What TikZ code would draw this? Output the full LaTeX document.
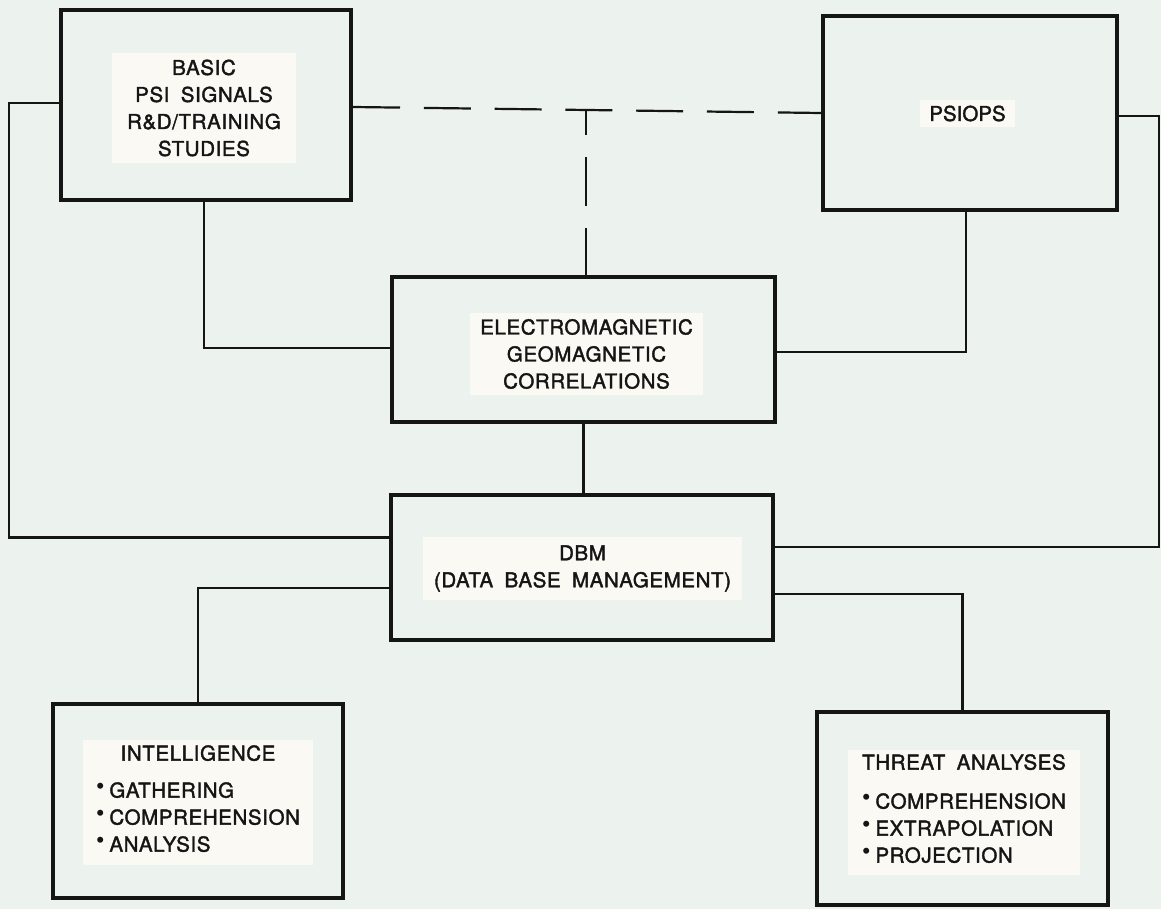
\documentclass[tikz,border=0pt]{standalone}
\usepackage{fontspec}
\setmainfont{TeX Gyre Heros}[LetterSpace=3, WordSpace=1.8, FakeBold=1.8]
\newfontfamily\dotfont{TeX Gyre Heros}
\usepackage{graphicx}
\usetikzlibrary{calc}
\definecolor{paper}{HTML}{ECF2EE}
\definecolor{card}{HTML}{FBF9F4}
\definecolor{ink}{HTML}{151515}
% small raised bullet used in the lists
\newcommand\itembullet{\raisebox{3pt}{\dotfont\fontsize{24}{24}\selectfont\textbullet}\hspace{5pt}}
\begin{document}
\begin{tikzpicture}[x=1pt,y=-1pt,
  box/.style={draw=ink, line width=4pt, fill=paper, inner sep=0pt},
  card/.style={fill=card, inner sep=0pt, align=center, text=ink,
               font=\fontsize{20.5}{27}\selectfont},
  link/.style={draw=ink, line width=2.2pt},
  dashlink/.style={link, dash pattern=on 47pt off 23.8pt}]

% sheet
\fill[paper] (0,0) rectangle (1161,909);
\useasboundingbox (0,0) rectangle (1161,909);

% outer boxes
\node[box, minimum width=290pt, minimum height=190pt] (A) at (206,105) {};
\node[box, minimum width=294pt, minimum height=194pt] (B) at (970,113) {};
\node[box, minimum width=383pt, minimum height=145pt] (C) at (583.5,349.5) {};
\node[box, minimum width=382pt, minimum height=145pt] (D) at (582,567.5) {};
\node[box, minimum width=290pt, minimum height=194pt] (E) at (198,801) {};
\node[box, minimum width=291pt, minimum height=193pt] (F) at (962.5,808.5) {};

% pasted labels
\node[card, minimum width=184pt, minimum height=110pt] (LA) at (204,108)
  {BASIC\\PSI SIGNALS\\R\&D/TRAINING\\STUDIES};
\node[card, minimum width=95pt, minimum height=27pt] (LB) at (967.5,113.5)
  {\addfontfeatures{LetterSpace=0}PSIOPS};
\node[card, minimum width=233pt, minimum height=82pt] (LC) at (586.5,354)
  {ELECTROMAGNETIC\\GEOMAGNETIC\\CORRELATIONS};
\node[card, minimum width=319pt, minimum height=63pt] (LD) at (582.5,568.5)
  {DBM\\(DATA BASE MANAGEMENT)};
\node[card, minimum width=230pt, minimum height=125pt] (LE) at (198,802.5)
  {INTELLIGENCE\\[10pt]\begin{tabular}[t]{@{}l@{}}
    \itembullet GATHERING\\
    \itembullet COMPREHENSION\\
    \itembullet ANALYSIS\end{tabular}};
\node[card, minimum width=232pt, minimum height=125pt] (LF) at (964,812.5)
  {THREAT ANALYSES\\[12pt]\begin{tabular}[t]{@{}l@{}}
    \itembullet COMPREHENSION\\
    \itembullet EXTRAPOLATION\\
    \itembullet PROJECTION\end{tabular}};

% dashed links
\draw[dashlink] ([yshift=-2pt]A.east) -- coordinate[pos=0.498] (dj) (B.west);
\draw[link, dash pattern=on 49pt off 22pt, dash phase=24pt] (dj) -- (dj |- C.north);

% solid links
\draw[link] ([xshift=-2pt]A.south) |- ([yshift=1.5pt]C.west);
\draw[link] ([xshift=-4pt]B.south) |- ([yshift=-2.5pt]C.east);
\draw[link] (C.south) -- (C.south |- D.north);
\draw[link] ([yshift=2pt]A.west) -- ++(-50,0) |- ([yshift=30pt]D.west);
\draw[link] ([yshift=-3pt]B.east) -- ++(40,0) |- ([yshift=20.5pt]D.east);
\draw[link] ([yshift=-20.5pt]D.west) -| (E.north);
\draw[link] ([yshift=-26.5pt]D.east) -| (F.north);
\end{tikzpicture}
\end{document}
